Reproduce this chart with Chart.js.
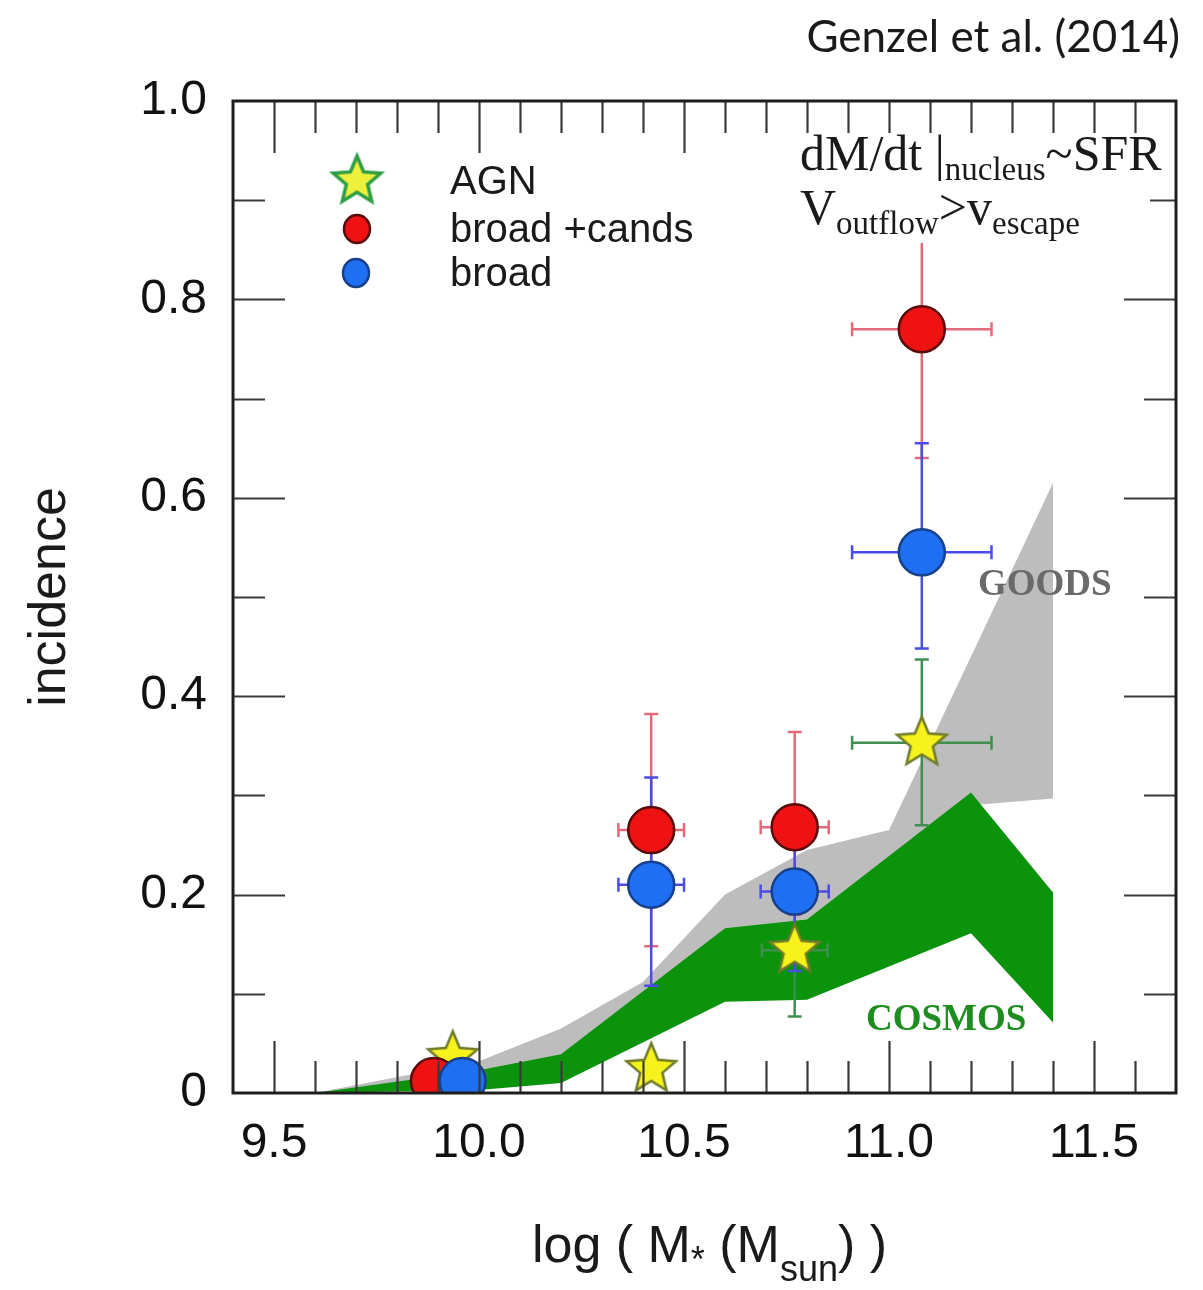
<!DOCTYPE html>
<html><head><meta charset="utf-8">
<script src="https://cdn.jsdelivr.net/npm/chart.js@4.4.0/dist/chart.umd.min.js"></script>
<style>
html,body{margin:0;padding:0;background:#fff;}
#wrap{position:relative;width:1203px;height:1290px;overflow:hidden;}
#c{position:absolute;left:0;top:0;}
.ov{position:absolute;white-space:nowrap;line-height:1;color:#1a1a1a;}
.sans{font-family:"Liberation Sans",Arial,Helvetica,sans-serif;}
.serif{font-family:"Liberation Serif","Times New Roman",serif;}
</style></head><body>
<div id="wrap">
<canvas id="c" width="1203" height="1290"></canvas>
<div id="cite" class="ov" style="font-family:Lato,'Open Sans',sans-serif;font-size:44px;right:23px;top:13px;">Genzel et al. (2014)</div>
<div id="note" class="ov serif" style="left:772px;top:133px;width:378px;height:110px;background:#fff;"></div>
<div class="ov serif" style="left:800px;top:128px;font-size:50px;">dM/dt |<span style="font-size:33px;position:relative;top:10px;">nucleus</span>~SFR</div>
<div class="ov serif" style="left:800px;top:182px;font-size:50px;">V<span style="font-size:33px;position:relative;top:10px;">outflow</span>&gt;v<span style="font-size:33px;position:relative;top:10px;">escape</span></div>
<div class="ov sans" style="left:450px;top:160px;font-size:40px;">AGN</div>
<div class="ov sans" style="left:450px;top:208px;font-size:40px;">broad +cands</div>
<div class="ov sans" style="left:450px;top:252px;font-size:40px;">broad</div>
<div class="ov serif" style="left:978px;top:564px;font-size:37px;font-weight:bold;color:#6a6a6a;">GOODS</div>
<div class="ov serif" style="left:866px;top:999px;font-size:37px;font-weight:bold;color:#1e8c1e;">COSMOS</div>
<div class="ov sans" style="left:233px;width:953px;text-align:center;top:1218px;font-size:52px;">log ( M<span style="font-size:36px;position:relative;top:10px;">*</span> (M<span style="font-size:36px;position:relative;top:19px;">sun</span>) )</div>
</div>
<script>
// ---------------- data ----------------
const xTickValues = [9.5, 10.0, 10.5, 11.0, 11.5];
const xTickLabels = ['9.5', '10.0', '10.5', '11.0', '11.5'];
const yTickValues = [0, 0.2, 0.4, 0.6, 0.8, 1.0];
const yTickLabels = ['0', '0.2', '0.4', '0.6', '0.8', '1.0'];

// AGN (stars)
const agnX    = [9.936, 10.42, 10.77, 11.08];
const agnY    = [0.036, 0.024, 0.144, 0.353];
const agnXErr = [0, 0, 0.08, 0.17];
const agnYLo  = [null, null, 0.077, 0.27];
const agnYHi  = [null, null, 0.22, 0.437];

// broad + candidates (red)
const bcX    = [9.89, 10.42, 10.77, 11.08];
const bcY    = [0.012, 0.265, 0.268, 0.77];
const bcXErr = [0, 0.08, 0.083, 0.17];
const bcYLo  = [null, 0.148, 0.18, 0.64];
const bcYHi  = [null, 0.382, 0.364, 0.9];

// broad (blue)
const bX    = [9.96, 10.42, 10.77, 11.08];
const bY    = [0.012, 0.21, 0.203, 0.545];
const bXErr = [0, 0.08, 0.083, 0.17];
const bYLo  = [null, 0.108, 0.123, 0.448];
const bYHi  = [null, 0.318, 0.255, 0.655];

// GOODS band (grey)
const goodsX  = [9.6, 10.0, 10.2, 10.4, 10.6, 10.8, 11.0, 11.2, 11.4];
const goodsHi = [0.0, 0.032, 0.065, 0.112, 0.2, 0.245, 0.265, 0.44, 0.615];
const goodsLo = [0.0, 0.01, 0.02, 0.06, 0.12, 0.15, 0.2, 0.29, 0.297];

// COSMOS band (green)
const cosX  = [9.6, 10.0, 10.2, 10.6, 10.8, 11.2, 11.4];
const cosHi = [0.0, 0.023, 0.039, 0.166, 0.175, 0.303, 0.202];
const cosLo = [0.0, 0.003, 0.01, 0.092, 0.094, 0.161, 0.071];

// ---------------- helpers ----------------
const pts = (xs, ys) => xs.map((x, i) => ({x: x, y: ys[i]}));

function makeStar(R, ratio, fill, stroke, lw) {
  const s = Math.ceil(2 * R + 2 * lw + 4);
  const c = document.createElement('canvas');
  c.width = s; c.height = s;
  const g = c.getContext('2d');
  g.translate(s / 2, s / 2);
  g.beginPath();
  for (let k = 0; k < 10; k++) {
    const rr = k % 2 === 0 ? R : R * ratio;
    const a = -Math.PI / 2 + k * Math.PI / 5;
    const px = rr * Math.cos(a), py = rr * Math.sin(a);
    if (k === 0) g.moveTo(px, py); else g.lineTo(px, py);
  }
  g.closePath();
  g.fillStyle = fill; g.fill();
  g.lineJoin = 'miter';
  g.lineWidth = lw; g.strokeStyle = stroke; g.stroke();
  return c;
}
const starImg = makeStar(26, 0.45, '#f6f21c', '#6f7a2a', 2.5);
const legendStar = makeStar(25, 0.45, '#eef03c', '#2e9e44', 3.5);

function drawErrors(ctx, sx, sy, xs, ys, xe, ylo, yhi, color) {
  ctx.save();
  ctx.strokeStyle = color; ctx.lineWidth = 2.5;
  const cap = 7;
  for (let i = 0; i < xs.length; i++) {
    const px = sx.getPixelForValue(xs[i]);
    const py = sy.getPixelForValue(ys[i]);
    if (ylo[i] != null && yhi[i] != null) {
      const p1 = sy.getPixelForValue(ylo[i]), p2 = sy.getPixelForValue(yhi[i]);
      ctx.beginPath();
      ctx.moveTo(px, p1); ctx.lineTo(px, p2);
      ctx.moveTo(px - cap, p1); ctx.lineTo(px + cap, p1);
      ctx.moveTo(px - cap, p2); ctx.lineTo(px + cap, p2);
      ctx.stroke();
    }
    if (xe[i]) {
      const q1 = sx.getPixelForValue(xs[i] - xe[i]), q2 = sx.getPixelForValue(xs[i] + xe[i]);
      ctx.beginPath();
      ctx.moveTo(q1, py); ctx.lineTo(q2, py);
      ctx.moveTo(q1, py - cap); ctx.lineTo(q1, py + cap);
      ctx.moveTo(q2, py - cap); ctx.lineTo(q2, py + cap);
      ctx.stroke();
    }
  }
  ctx.restore();
}

const errorBars = {
  id: 'errorBars',
  afterDatasetDraw(chart, args) {
    if (chart.data.datasets[args.index].label !== 'COSMOS upper') return;
    const ctx = chart.ctx, sx = chart.scales.x, sy = chart.scales.y;
    drawErrors(ctx, sx, sy, agnX, agnY, agnXErr, agnYLo, agnYHi, '#3f8f4f');
    drawErrors(ctx, sx, sy, bcX, bcY, bcXErr, bcYLo, bcYHi, '#e36a78');
    drawErrors(ctx, sx, sy, bX, bY, bXErr, bYLo, bYHi, '#4b4be6');
  }
};

const frame = {
  id: 'frame',
  afterDraw(chart) {
    const ctx = chart.ctx, a = chart.chartArea, sx = chart.scales.x, sy = chart.scales.y;
    ctx.save();
    ctx.strokeStyle = '#3a3a3a'; ctx.lineWidth = 2.2;
    const big = 52, small = 32;
    ctx.beginPath();
    for (let k = Math.ceil(sx.min * 10 + 1e-6); k <= Math.floor(sx.max * 10 - 1e-6); k++) {
      const px = Math.round(sx.getPixelForValue(k / 10)) + 0.5;
      const L = (k % 5 === 0) ? big : small;
      ctx.moveTo(px, a.bottom); ctx.lineTo(px, a.bottom - L);
      ctx.moveTo(px, a.top); ctx.lineTo(px, a.top + L);
    }
    for (let k = 1; k < 10; k++) {
      const py = Math.round(sy.getPixelForValue(k / 10)) + 0.5;
      const L = (k % 2 === 0) ? big : small;
      ctx.moveTo(a.left, py); ctx.lineTo(a.left + L, py);
      ctx.moveTo(a.right, py); ctx.lineTo(a.right - L, py);
    }
    ctx.stroke();
    ctx.strokeStyle = '#1e1e1e'; ctx.lineWidth = 3;
    ctx.strokeRect(a.left, a.top, a.right - a.left, a.bottom - a.top);
    // legend symbols
    ctx.drawImage(legendStar, 357 - legendStar.width / 2, 181 - legendStar.height / 2);
    ctx.lineWidth = 2.5;
    ctx.beginPath(); ctx.ellipse(357, 229, 13, 14, 0, 0, 2 * Math.PI);
    ctx.fillStyle = '#ee1212'; ctx.fill(); ctx.strokeStyle = '#5a0a0a'; ctx.stroke();
    ctx.beginPath(); ctx.ellipse(356, 273, 13, 14, 0, 0, 2 * Math.PI);
    ctx.fillStyle = '#1f6ff2'; ctx.fill(); ctx.strokeStyle = '#163f8c'; ctx.stroke();
    ctx.restore();
  }
};

const tickFont = {family: '"Liberation Sans", Arial, Helvetica, sans-serif', size: 48};

new Chart(document.getElementById('c'), {
  type: 'line',
  data: {
    datasets: [
      {label: 'broad', data: pts(bX, bY), showLine: false, pointStyle: 'circle', pointRadius: 23,
       pointBackgroundColor: '#1f6ff2', pointBorderColor: '#163f8c', pointBorderWidth: 2.5, order: 0, clip: 0},
      {label: 'broad +cands', data: pts(bcX, bcY), showLine: false, pointStyle: 'circle', pointRadius: 23,
       pointBackgroundColor: '#ee1212', pointBorderColor: '#5a0a0a', pointBorderWidth: 2.5, order: 1, clip: 0},
      {label: 'AGN', data: pts(agnX, agnY), showLine: false, pointStyle: starImg, pointRadius: 26, order: 2, clip: 0},
      {label: 'COSMOS upper', data: pts(cosX, cosHi), fill: '+1', backgroundColor: '#0c930c',
       borderColor: 'rgba(0,0,0,0)', borderWidth: 0, pointRadius: 0, tension: 0, order: 9},
      {label: 'COSMOS lower', data: pts(cosX, cosLo), fill: false,
       borderColor: 'rgba(0,0,0,0)', borderWidth: 0, pointRadius: 0, tension: 0, order: 9},
      {label: 'GOODS upper', data: pts(goodsX, goodsHi), fill: '+1', backgroundColor: '#bdbdbd',
       borderColor: 'rgba(0,0,0,0)', borderWidth: 0, pointRadius: 0, tension: 0, order: 10},
      {label: 'GOODS lower', data: pts(goodsX, goodsLo), fill: false,
       borderColor: 'rgba(0,0,0,0)', borderWidth: 0, pointRadius: 0, tension: 0, order: 10}
    ]
  },
  options: {
    responsive: false,
    animation: false,
    events: [],
    devicePixelRatio: 1,
    layout: {padding: {left: 0, top: 101, right: 17, bottom: 0}},
    plugins: {legend: {display: false}, tooltip: {enabled: false}},
    scales: {
      x: {
        type: 'linear', min: 9.4, max: 11.7,
        grid: {display: false, drawTicks: false},
        border: {display: false},
        afterBuildTicks: s => { s.ticks = xTickValues.map(v => ({value: v})); },
        afterFit: s => { s.height = 197; },
        ticks: {
          font: tickFont, color: '#111', padding: 22, maxRotation: 0, autoSkip: false,
          callback: v => { const i = xTickValues.findIndex(t => Math.abs(t - v) < 1e-6); return i >= 0 ? xTickLabels[i] : ''; }
        }
      },
      y: {
        type: 'linear', min: 0, max: 1,
        grid: {display: false, drawTicks: false},
        border: {display: false},
        afterBuildTicks: s => { s.ticks = yTickValues.map(v => ({value: v})); },
        afterFit: s => { s.width = 233; },
        ticks: {
          font: tickFont, color: '#111', padding: 26, autoSkip: false,
          callback: v => { const i = yTickValues.findIndex(t => Math.abs(t - v) < 1e-6); return i >= 0 ? yTickLabels[i] : ''; }
        },
        title: {display: true, text: 'incidence', color: '#1a1a1a',
                font: {family: '"Liberation Sans", Arial, Helvetica, sans-serif', size: 52}, padding: {top: 19, bottom: 0}}
      }
    }
  },
  plugins: [errorBars, frame]
});
</script>
</body></html>
